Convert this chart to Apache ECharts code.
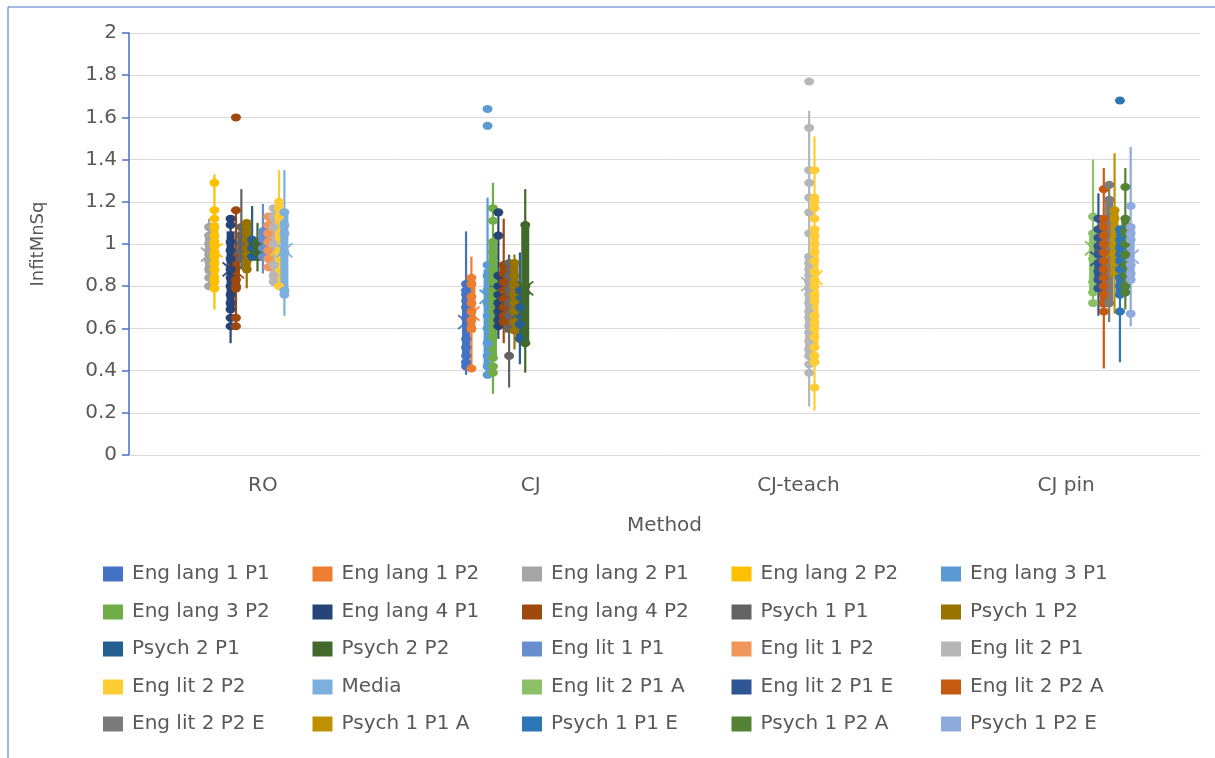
<!DOCTYPE html>
<html>
<head>
<meta charset="utf-8">
<script src="https://cdn.jsdelivr.net/npm/echarts@6/dist/echarts.min.js"></script>
<style>
  html, body { margin: 0; padding: 0; background: #ffffff; }
  #chart { width: 1215px; height: 758px; }
</style>
</head>
<body>
<div id="chart"></div>
<script>
// Methods on the horizontal axis
const categories = ['RO', 'CJ', 'CJ-teach', 'CJ pin'];

// Rater groups, in legend order
const seriesNames = [
  'Eng lang 1 P1', 'Eng lang 1 P2', 'Eng lang 2 P1', 'Eng lang 2 P2', 'Eng lang 3 P1',
  'Eng lang 3 P2', 'Eng lang 4 P1', 'Eng lang 4 P2', 'Psych 1 P1', 'Psych 1 P2',
  'Psych 2 P1', 'Psych 2 P2', 'Eng lit 1 P1', 'Eng lit 1 P2', 'Eng lit 2 P1',
  'Eng lit 2 P2', 'Media', 'Eng lit 2 P1 A', 'Eng lit 2 P1 E', 'Eng lit 2 P2 A',
  'Eng lit 2 P2 E', 'Psych 1 P1 A', 'Psych 1 P1 E', 'Psych 1 P2 A', 'Psych 1 P2 E'
];

// Y-axis ticks
const yTicks = { min: 0, max: 2, step: 0.2 };

// Box summaries per method:
// [group index, whisker low, Q1, Q3, whisker high, mean, individual InfitMnSq values]
const roGroups = [
  [2, 0.80, 0.86, 1.04, 1.12, 0.95, [1.08, 1.04, 1.00, 0.97, 0.95, 0.92, 0.88, 0.84, 0.80]],
  [3, 0.69, 0.84, 1.10, 1.33, 0.97, [1.29, 1.16, 1.12, 1.08, 1.04, 1.01, 0.99, 0.96, 0.94, 0.91, 0.88, 0.84, 0.82, 0.79]],
  [6, 0.53, 0.70, 1.06, 1.12, 0.88, [1.12, 1.09, 1.01, 0.97, 0.93, 0.88, 0.84, 0.80, 0.76, 0.72, 0.69, 0.65, 0.61]],
  [7, 0.61, 0.78, 0.95, 1.16, 0.87, [1.60, 1.16, 0.83, 0.80, 0.79, 0.65, 0.61]],
  [8, 0.88, 0.93, 1.06, 1.26, 0.99, [1.08, 1.04, 1.00, 0.96, 0.93]],
  [9, 0.79, 0.88, 1.08, 1.10, 0.98, [1.10, 1.08, 1.05, 1.02, 0.98, 0.95, 0.92, 0.88]],
  [10, 0.92, 0.95, 1.03, 1.18, 0.99, [1.02, 0.98, 0.94]],
  [11, 0.87, 0.92, 1.03, 1.10, 0.99, [1.01, 0.99, 0.96]],
  [12, 0.86, 0.93, 1.06, 1.19, 1.00, [1.06, 1.02, 0.98, 0.94]],
  [13, 0.88, 0.92, 1.10, 1.14, 1.00, [1.13, 1.09, 1.05, 1.01, 0.97, 0.93, 0.89]],
  [14, 0.80, 0.82, 1.15, 1.17, 0.99, [1.17, 1.13, 1.08, 1.00, 0.90, 0.85, 0.82]],
  [15, 0.78, 0.80, 1.17, 1.35, 0.98, [1.20, 1.17, 1.13, 0.80]],
  [16, 0.66, 0.77, 1.15, 1.35, 0.97, [1.15, 1.09, 1.05, 0.96, 0.78, 0.76]]
];
const cjGroups = [
  [0, 0.38, 0.46, 0.79, 1.06, 0.63, [0.81, 0.78, 0.76, 0.73, 0.70, 0.65, 0.55, 0.51, 0.47, 0.44, 0.42]],
  [1, 0.40, 0.58, 0.83, 0.94, 0.67, [0.84, 0.81, 0.75, 0.72, 0.68, 0.64, 0.60, 0.41]],
  [4, 0.38, 0.43, 0.88, 1.22, 0.75, [1.64, 1.56, 0.90, 0.85, 0.78, 0.72, 0.66, 0.60, 0.53, 0.47, 0.42, 0.38]],
  [5, 0.29, 0.47, 1.00, 1.29, 0.76, [1.17, 1.11, 1.01, 0.96, 0.92, 0.88, 0.85, 0.82, 0.78, 0.75, 0.72, 0.68, 0.64, 0.60, 0.56, 0.46, 0.42, 0.39]],
  [6, 0.55, 0.62, 0.84, 1.15, 0.77, [1.15, 1.04, 0.85, 0.80, 0.76, 0.72, 0.68, 0.64, 0.61]],
  [7, 0.53, 0.63, 0.90, 1.12, 0.76, [0.90, 0.86, 0.82, 0.78, 0.74, 0.70, 0.66, 0.63]],
  [8, 0.32, 0.58, 0.90, 0.95, 0.72, [0.91, 0.85, 0.78, 0.72, 0.66, 0.60, 0.47]],
  [9, 0.50, 0.58, 0.91, 0.95, 0.74, [0.91, 0.85, 0.80, 0.77, 0.72, 0.68, 0.63, 0.59]],
  [10, 0.43, 0.55, 0.78, 0.96, 0.68, [0.78, 0.70, 0.62, 0.55]],
  [11, 0.39, 0.53, 1.09, 1.26, 0.79, [1.09, 0.80, 0.77, 0.53]]
];
const cjTeachGroups = [
  [14, 0.23, 0.48, 0.95, 1.63, 0.81, [1.77, 1.55, 1.35, 1.29, 1.22, 1.15, 1.05, 0.94, 0.91, 0.88, 0.85, 0.82, 0.79, 0.76, 0.72, 0.68, 0.65, 0.61, 0.58, 0.54, 0.50, 0.47, 0.43, 0.39]],
  [15, 0.21, 0.52, 1.07, 1.51, 0.84, [1.35, 1.22, 1.20, 1.17, 1.12, 1.07, 1.04, 1.00, 0.96, 0.92, 0.87, 0.83, 0.80, 0.76, 0.73, 0.66, 0.63, 0.60, 0.56, 0.51, 0.47, 0.44, 0.32]]
];
const cjPinGroups = [
  [17, 0.71, 0.78, 1.06, 1.40, 0.98, [1.13, 1.05, 1.00, 0.93, 0.82, 0.77, 0.72]],
  [18, 0.66, 0.80, 1.08, 1.24, 0.93, [1.12, 1.07, 1.03, 0.99, 0.95, 0.91, 0.87, 0.83, 0.79]],
  [19, 0.41, 0.70, 1.12, 1.36, 0.94, [1.26, 1.12, 1.08, 1.04, 1.00, 0.96, 0.92, 0.88, 0.84, 0.80, 0.76, 0.72, 0.68]],
  [20, 0.63, 0.72, 1.21, 1.30, 0.95, [1.28, 1.21, 0.72]],
  [21, 0.67, 0.85, 1.16, 1.43, 0.97, [1.16, 1.12, 1.02, 0.95, 0.91, 0.86]],
  [22, 0.44, 0.76, 1.07, 1.07, 0.93, [1.68, 1.07, 1.02, 0.98, 0.95, 0.92, 0.88, 0.84, 0.80, 0.76, 0.68]],
  [23, 0.69, 0.78, 1.12, 1.36, 0.95, [1.27, 1.12, 1.06, 1.00, 0.95, 0.90, 0.85, 0.80, 0.77]],
  [24, 0.61, 0.84, 1.08, 1.46, 0.94, [1.18, 1.08, 1.05, 1.02, 0.90, 0.86, 0.83, 0.67]]
];
const groupsByMethod = [roGroups, cjGroups, cjTeachGroups, cjPinGroups];

// Office-style palette, one colour per rater group
const palette = [
  '#4472C4', '#ED7D31', '#A5A5A5', '#FFC000', '#5B9BD5',
  '#70AD47', '#264478', '#9E480E', '#636363', '#997300',
  '#255E91', '#43682B', '#698ED0', '#F1975A', '#B7B7B7',
  '#FFCD33', '#7CAFDD', '#8CC168', '#2F5597', '#C55A11',
  '#7B7B7B', '#BF9000', '#2E75B6', '#548235', '#8FAADC'
];

// Every group keeps its own slot inside a method's band
const SLOT = 0.0201;
const CENTER_SLOT = 12;
function slotX(methodIndex, groupIndex) {
  return methodIndex + (groupIndex - CENTER_SLOT) * SLOT;
}

const FONT = 'DejaVu Sans';
const TEXT_COLOR = '#595959';

// Whisker line plus a narrow filled box from Q1 to Q3
function renderBox(params, api) {
  const xv = slotX(api.value(0), api.value(1));
  const lo = api.coord([xv, api.value(2)]);
  const q1 = api.coord([xv, api.value(3)]);
  const q3 = api.coord([xv, api.value(4)]);
  const hi = api.coord([xv, api.value(5)]);
  const color = api.visual('color');
  const bw = 8;
  return {
    type: 'group',
    children: [
      { type: 'line', shape: { x1: lo[0], y1: lo[1], x2: hi[0], y2: hi[1] },
        style: { stroke: color, lineWidth: 2.2 } },
      { type: 'rect', shape: { x: q3[0] - bw / 2, y: q3[1], width: bw, height: q1[1] - q3[1] },
        style: { fill: color } }
    ]
  };
}

// Mean drawn as an X
function renderMean(params, api) {
  const p = api.coord([slotX(api.value(0), api.value(1)), api.value(6)]);
  const color = api.visual('color');
  const w = 8, h = 7;
  return {
    type: 'group',
    children: [
      { type: 'line', shape: { x1: p[0] - w, y1: p[1] - h, x2: p[0] + w, y2: p[1] + h },
        style: { stroke: color, lineWidth: 1.8 } },
      { type: 'line', shape: { x1: p[0] - w, y1: p[1] + h, x2: p[0] + w, y2: p[1] - h },
        style: { stroke: color, lineWidth: 1.8 } }
    ]
  };
}

const series = [];
seriesNames.forEach(function (name, s) {
  const boxData = [];
  const pointData = [];
  groupsByMethod.forEach(function (groups, m) {
    groups.forEach(function (g) {
      if (g[0] !== s) return;
      boxData.push([m, s, g[1], g[2], g[3], g[4], g[5]]);
      g[6].forEach(function (v) { pointData.push([slotX(m, s), v]); });
    });
  });
  const color = palette[s];
  series.push({
    name: name, type: 'custom', xAxisIndex: 1, yAxisIndex: 0,
    renderItem: renderBox, data: boxData, itemStyle: { color: color },
    encode: { x: 0, y: 2 }, silent: true
  });
  series.push({
    name: name, type: 'scatter', xAxisIndex: 1, yAxisIndex: 0,
    data: pointData, symbol: 'circle', symbolSize: [10, 8],
    itemStyle: { color: color, opacity: 1 }, silent: true
  });
  series.push({
    name: name, type: 'custom', xAxisIndex: 1, yAxisIndex: 0,
    renderItem: renderMean, data: boxData, itemStyle: { color: color },
    encode: { x: 0, y: 6 }, silent: true
  });
});

// Legend laid out as a 5 x 5 table, one entry per cell
const legendRowCenters = [576, 614, 651, 689, 726];
const legendColLefts = [103, 312.5, 522, 731.5, 941];
const legends = seriesNames.map(function (name, i) {
  return {
    data: [name],
    left: legendColLefts[i % 5],
    top: legendRowCenters[Math.floor(i / 5)] - 12,
    padding: 0,
    icon: 'rect',
    itemWidth: 20,
    itemHeight: 15,
    selectedMode: false,
    formatter: function (n) { return '{n|' + n + '}'; },
    textStyle: {
      color: TEXT_COLOR, fontFamily: FONT, fontSize: 20,
      rich: { n: { color: TEXT_COLOR, fontFamily: FONT, fontSize: 20, padding: [0, 0, 0, 4] } }
    }
  };
});

const chart = echarts.init(document.getElementById('chart'), null, { renderer: 'canvas' });
chart.setOption({
  animation: false,
  backgroundColor: '#ffffff',
  textStyle: { fontFamily: FONT },
  graphic: [{
    type: 'rect', silent: true,
    shape: { x: 8, y: 7, width: 1230, height: 780 },
    style: { fill: null, stroke: '#4472C4', lineWidth: 1 }
  }],
  grid: { left: 129, right: 15, top: 33, bottom: 303, containLabel: false },
  xAxis: [
    {
      type: 'category',
      data: categories,
      boundaryGap: true,
      axisLine: { show: true, lineStyle: { color: '#D9D9D9', width: 1 } },
      axisTick: { show: false },
      axisLabel: { color: TEXT_COLOR, fontSize: 20, margin: 21, fontFamily: FONT },
      name: 'Method',
      nameLocation: 'middle',
      nameGap: 61,
      nameTextStyle: { color: TEXT_COLOR, fontSize: 20, fontFamily: FONT },
      splitLine: { show: false }
    },
    {
      type: 'value', min: -0.5, max: 3.5, show: false,
      splitLine: { show: false }
    }
  ],
  yAxis: {
    type: 'value',
    min: yTicks.min, max: yTicks.max, interval: yTicks.step,
    axisLine: { show: true, onZero: false, lineStyle: { color: '#4472C4', width: 1.5 } },
    axisTick: { show: true, inside: false, length: 7, lineStyle: { color: '#4472C4', width: 1.5 } },
    axisLabel: { color: TEXT_COLOR, fontSize: 20, margin: 12, fontFamily: FONT },
    splitLine: { show: true, lineStyle: { color: '#D9D9D9', width: 1 } },
    name: 'InfitMnSq',
    nameLocation: 'middle',
    nameRotate: 90,
    nameGap: 82,
    nameTextStyle: { color: TEXT_COLOR, fontSize: 18, fontFamily: FONT }
  },
  legend: legends,
  series: series
});
</script>
</body>
</html>
